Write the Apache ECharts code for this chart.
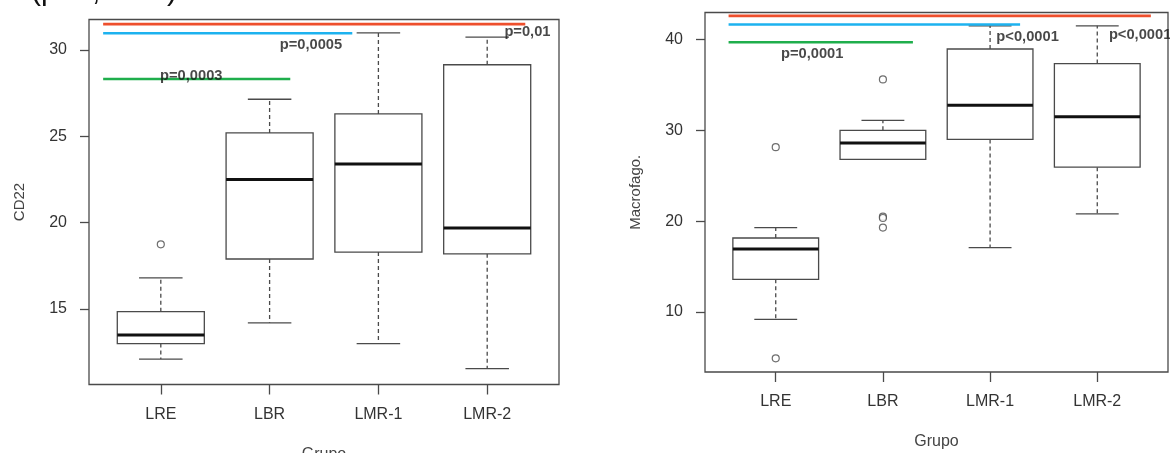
<!DOCTYPE html>
<html>
<head>
<meta charset="utf-8">
<script src="https://cdn.jsdelivr.net/npm/echarts@6/dist/echarts.min.js"></script>
<style>
  html, body { margin: 0; padding: 0; background: #fff; }
  #chart { width: 1170px; height: 453px; }
</style>
</head>
<body>
<div id="chart"></div>
<script>
// Groups on the x axis (positions 1..4)
const groups = ['LRE', 'LBR', 'LMR-1', 'LMR-2'];

// Box statistics per group: [lower whisker, Q1, median, Q3, upper whisker]
const cd22Stats = [
  [12.1, 13.0, 13.5, 14.85, 16.8],
  [14.2, 17.9, 22.5, 25.2, 27.15],
  [13.0, 18.3, 23.4, 26.3, 31.0],
  [11.55, 18.2, 19.7, 29.15, 30.75]
];
const cd22Outliers = [[1, 18.75]];

const macroStats = [
  [9.2, 13.6, 16.95, 18.15, 19.3],
  [26.8, 26.8, 28.6, 30.0, 31.1],
  [17.1, 29.0, 32.75, 38.95, 41.5],
  [20.8, 25.95, 31.5, 37.35, 41.5]
];
const macroOutliers = [[1, 4.9], [1, 28.15], [2, 35.6], [2, 20.5], [2, 20.35], [2, 19.3]];

// Significance bars: [from x, to x, y level]
const bracketColors = ['#ee4f2c', '#1db2ef', '#1fae4c'];
const cd22Brackets = [[0.47, 4.35, 31.5], [0.47, 2.76, 30.97], [0.47, 2.19, 28.32]];
const macroBrackets = [[0.56, 4.50, 42.6], [0.56, 3.28, 41.65], [0.56, 2.28, 39.7]];

// P-value texts: [x, y, text]
const cd22PValues = [[1.28, 28.5, 'p=0,0003'], [2.38, 30.29, 'p=0,0005'], [4.37, 31.04, 'p=0,01']];
const macroPValues = [[1.34, 38.46, 'p=0,0001'], [3.35, 40.29, 'p<0,0001'], [4.40, 40.55, 'p<0,0001']];

// Axis ticks
const cd22Ticks = [15, 20, 25, 30];
const macroTicks = [10, 20, 30, 40];
const groupTicks = [1, 2, 3, 4];

const FONT = 'Liberation Sans, Arial, sans-serif';
const INK = '#4a4a4a';

function renderBox(params, api) {
  const x = api.value(0);
  const lo = api.value(1), q1 = api.value(2), md = api.value(3), q3 = api.value(4), hi = api.value(5);
  const half = api.size([0.8, 0])[0] / 2;
  const capHalf = api.size([0.4, 0])[0] / 2;
  const c = v => api.coord([x, v]);
  const cx = c(md)[0];
  const yLo = c(lo)[1], yQ1 = c(q1)[1], yMd = c(md)[1], yQ3 = c(q3)[1], yHi = c(hi)[1];
  const thin = { stroke: INK, lineWidth: 1.3, fill: null };
  const dashed = { stroke: INK, lineWidth: 1.3, lineDash: [4, 3] };
  return {
    type: 'group',
    children: [
      { type: 'line', shape: { x1: cx, y1: yQ1, x2: cx, y2: yLo }, style: dashed },
      { type: 'line', shape: { x1: cx, y1: yQ3, x2: cx, y2: yHi }, style: dashed },
      { type: 'line', shape: { x1: cx - capHalf, y1: yLo, x2: cx + capHalf, y2: yLo }, style: thin },
      { type: 'line', shape: { x1: cx - capHalf, y1: yHi, x2: cx + capHalf, y2: yHi }, style: thin },
      { type: 'rect', shape: { x: cx - half, y: yQ3, width: half * 2, height: yQ1 - yQ3 }, style: { stroke: INK, lineWidth: 1.3, fill: '#fff' } },
      { type: 'line', shape: { x1: cx - half, y1: yMd, x2: cx + half, y2: yMd }, style: { stroke: '#111', lineWidth: 3 } }
    ]
  };
}

function renderBracket(params, api) {
  const a = api.coord([api.value(0), api.value(2)]);
  const b = api.coord([api.value(1), api.value(2)]);
  return {
    type: 'line',
    shape: { x1: a[0], y1: a[1], x2: b[0], y2: b[1] },
    style: { stroke: api.visual('color'), lineWidth: 2.6 }
  };
}

function xAxisFor(gridIndex) {
  return {
    type: 'value', gridIndex, min: 0.34, max: 4.66,
    name: 'Grupo', nameLocation: 'middle', nameGap: 62,
    nameTextStyle: { fontFamily: FONT, fontSize: 16, color: '#444' },
    axisLine: { show: false },
    axisTick: { show: true, length: 10, customValues: groupTicks, lineStyle: { color: INK, width: 1.3 } },
    axisLabel: { customValues: groupTicks, margin: 22, fontFamily: FONT, fontSize: 16, color: '#333',
      formatter: v => groups[Math.round(v) - 1] || '' },
    splitLine: { show: false }
  };
}

function yAxisFor(gridIndex, name, min, max, ticks) {
  return {
    type: 'value', gridIndex, min, max,
    name, nameLocation: 'middle', nameGap: 62,
    nameTextStyle: { fontFamily: FONT, fontSize: 15, color: '#444' },
    axisLine: { show: false },
    axisTick: { show: true, length: 9, customValues: ticks, lineStyle: { color: INK, width: 1.3 } },
    axisLabel: { customValues: ticks, margin: 22, fontFamily: FONT, fontSize: 16, color: '#333' },
    splitLine: { show: false }
  };
}

function panelSeries(idx, stats, outliers, brackets, pvals) {
  return [
    {
      type: 'custom', xAxisIndex: idx, yAxisIndex: idx, renderItem: renderBox,
      encode: { x: 0, y: [1, 2, 3, 4, 5] },
      data: stats.map((s, i) => [i + 1].concat(s)), z: 2
    },
    {
      type: 'scatter', xAxisIndex: idx, yAxisIndex: idx, data: outliers,
      symbol: 'circle', symbolSize: 7,
      itemStyle: { color: '#fff', borderColor: INK, borderWidth: 1.2 }, z: 3
    },
    {
      type: 'custom', xAxisIndex: idx, yAxisIndex: idx, renderItem: renderBracket,
      encode: { x: [0, 1], y: 2 },
      data: brackets.map((b, i) => ({ value: b, itemStyle: { color: bracketColors[i] } })), z: 4
    },
    {
      type: 'scatter', xAxisIndex: idx, yAxisIndex: idx, symbolSize: 0,
      data: pvals.map(p => ({ value: [p[0], p[1]], name: p[2] })),
      label: { show: true, position: 'inside', formatter: '{b}', fontFamily: FONT,
        fontSize: 14.7, fontWeight: 'bold', color: '#1a1a1a' },
      labelLayout: { hideOverlap: false }, z: 5
    }
  ];
}

const chart = echarts.init(document.getElementById('chart'), null, { renderer: 'canvas' });
chart.setOption({
  animation: false,
  backgroundColor: '#fff',
  graphic: [{
    type: 'text', left: 31, top: -23,
    style: { text: '(p<0,0001)', fontFamily: FONT, fontSize: 30, fill: '#111' }
  }],
  grid: [
    { left: 89, top: 19.5, width: 470, height: 365, outerBoundsMode: 'none', show: true, borderColor: INK, borderWidth: 1.3, backgroundColor: 'transparent' },
    { left: 705, top: 12.5, width: 463, height: 359.5, outerBoundsMode: 'none', show: true, borderColor: INK, borderWidth: 1.3, backgroundColor: 'transparent' }
  ],
  xAxis: [xAxisFor(0), xAxisFor(1)],
  yAxis: [
    yAxisFor(0, 'CD22', 10.63, 31.77, cd22Ticks),
    yAxisFor(1, 'Macrofago.', 3.4, 42.97, macroTicks)
  ],
  series: []
    .concat(panelSeries(0, cd22Stats, cd22Outliers, cd22Brackets, cd22PValues))
    .concat(panelSeries(1, macroStats, macroOutliers, macroBrackets, macroPValues))
});
</script>
</body>
</html>
